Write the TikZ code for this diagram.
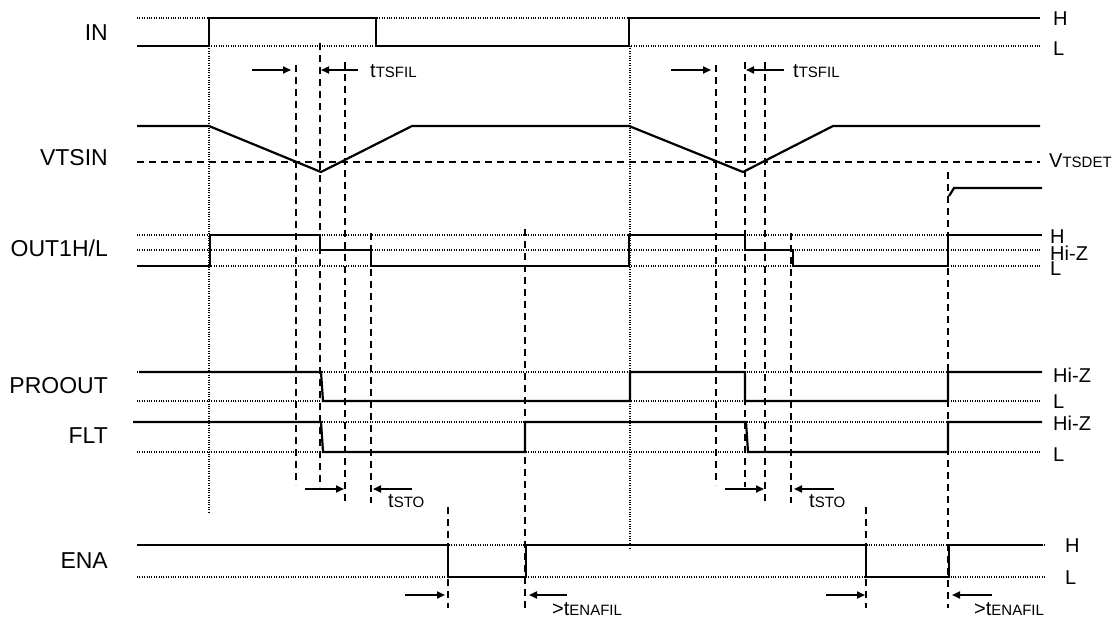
\documentclass[tikz,border=0pt]{standalone}
\usepackage{fontspec}
\setmainfont{Liberation Sans}
\usetikzlibrary{arrows.meta}
\newcommand{\sm}[1]{{\fontsize{15}{18}\selectfont #1}}

\begin{document}
\begin{tikzpicture}[x=1pt,y=-1pt,
  sigline/.style={line width=2.2pt},
  lvline/.style={line width=1.1pt,dash pattern=on 1pt off 1.4pt},
  guideline/.style={line width=1.3pt,dash pattern=on 7pt off 5pt},
  dimarrow/.style={line width=1.8pt,-{Triangle[length=8pt,width=7pt]}},
  siglabel/.style={anchor=base east,inner sep=0pt,font=\fontsize{23}{27}\selectfont},
  levlabel/.style={anchor=base west,inner sep=0pt,font=\fontsize{20}{24}\selectfont}]
\path[fill=white,use as bounding box] (0,0) rectangle (1118,624);

\foreach \y in {18,46,235,250,266,372,401,422,452}
  \draw[lvline] (137,\y) -- (1040,\y);
\foreach \y in {545,577}
  \draw[lvline] (137,\y) -- (1045,\y);
\draw[lvline] (209,46) -- (209,512);
\draw[lvline] (630,46) -- (630,550);
\draw[guideline] (137,162) -- (1040,162);
\foreach \x/\a/\b in {296/65/485, 320/43/487, 345/62/503, 371/233/503,
    525/229/612, 448/507/608, 716/65/485, 745/62/487, 765/62/503,
    791/233/503, 948/172/608, 866/507/608}
  \draw[guideline] (\x,\a) -- (\x,\b);

\draw[sigline] (137,46) -| (209,18) -| (376,46) -| (629,18) -- (1040,18);
\draw[sigline] (137,126) -- (209,126) -- (321,172) -- (412,126) -- (629,126)
  -- (743,172) -- (833,126) -- (1040,126);
\draw[sigline] (949,196) -- (954,188) -- (1042,188);
\draw[sigline] (137,266) -| (210,235) -| (320,250) -| (371,266) -| (629,235)
  -| (745,250) -| (793,266) -| (948,235) -- (1042,235);
\draw[sigline] (139,372) -- (321,372) -- (323,401) -| (630,372) -| (745,401)
  -| (948,372) -- (1042,372);
\draw[sigline] (133,422) -- (321,422) -- (323,452) -| (525,422) -- (746,422)
  -- (748,452) -| (948,422) -- (1042,422);
\draw[sigline] (137,545) -| (448,577) -| (526,545) -| (866,577) -| (949,545)
  -- (1042,545);

\node[siglabel] (in) at (108,40) {IN};
\node[siglabel] (vtsin) at (108,165) {VTSIN};
\node[siglabel] (out) at (108,256) {OUT1H/L};
\node[siglabel] (proout) at (108,393) {PROOUT};
\node[siglabel] (flt) at (108,443) {FLT};
\node[siglabel] (ena) at (108,568) {ENA};

\node[levlabel] (inH) at (1053,25) {H};
\node[levlabel] (inL) at (1053,55) {L};
\node[levlabel] (vdet) at (1049,167) {V\sm{TSDET}};
\node[levlabel] (outH) at (1050,243) {H};
\node[levlabel] (outZ) at (1050,260) {Hi-Z};
\node[levlabel] (outL) at (1050,275) {L};
\node[levlabel] (proZ) at (1053,382) {Hi-Z};
\node[levlabel] (proL) at (1053,408) {L};
\node[levlabel] (fltZ) at (1053,430) {Hi-Z};
\node[levlabel] (fltL) at (1053,461) {L};
\node[levlabel] (enaH) at (1065,552) {H};
\node[levlabel] (enaL) at (1065,584) {L};

\node[levlabel] (fil1) at (370,77) {t\sm{TSFIL}};
\node[levlabel] (fil2) at (793,77) {t\sm{TSFIL}};
\node[levlabel] (sto1) at (388,507) {t\sm{STO}};
\node[levlabel] (sto2) at (809,507) {t\sm{STO}};
\node[levlabel] (enafil1) at (552,615) {>t\sm{ENAFIL}};
\node[levlabel] (enafil2) at (974,615) {>t\sm{ENAFIL}};

\foreach \n/\a/\b/\y in {f1r/252/291/70, f1l/358/321/70, f2r/671/711/70,
    f2l/784/746/70, s1r/305/344/489, s1l/412/373/489, s2r/725/764/489,
    s2l/834/794/489, e1r/405/445/595, e1l/567/529/595, e2r/826/865/595,
    e2l/992/952/595} {
  \coordinate (\n a) at (\a,\y);
  \coordinate (\n b) at (\b,\y);
  \draw[dimarrow] (\n a) -- (\n b);
}
\end{tikzpicture}
\end{document}
